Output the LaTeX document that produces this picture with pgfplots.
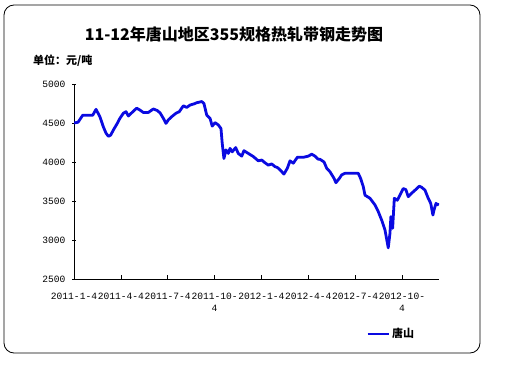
\documentclass[border=0pt]{standalone}
\usepackage{pgfplots}
\pgfplotsset{compat=1.18}
\usepackage{fontspec}
\setmainfont{Liberation Sans}
\setmonofont{Liberation Mono}
\newfontfamily\cjk{Noto Sans CJK SC}
\definecolor{lineblue}{RGB}{10,10,225}
\begin{document}
\begin{tikzpicture}
\path (0,0) rectangle (512pt,384pt);
\draw[black, line width=0.8pt, rounded corners=10pt] (4pt,31pt) rectangle (480pt,379pt);
\node[font=\cjk\bfseries\fontsize{16}{18}\selectfont] at (234pt,350pt) {11-12年唐山地区355规格热轧带钢走势图};
\node[font=\cjk\bfseries\fontsize{11}{12}\selectfont, anchor=west, inner sep=0pt] at (33pt,323pt) {单位：元/吨};
\begin{axis}[
  at={(74pt,105pt)}, anchor=south west,
  scale only axis, width=365pt, height=195pt,
  xmin=0, xmax=23.37, ymin=2500, ymax=5000,
  axis x line*=bottom, axis y line*=left,
  axis line style={-, line width=0.8pt},
  xtick={0,3,6,9,12,15,18,21},
  xticklabels={2011-1-4,2011-4-4,2011-7-4,2011-10-\\4,2012-1-4,2012-4-4,2012-7-4,2012-10-\\4},
  xticklabel style={align=center, font=\ttfamily\fontsize{9.6}{12}\selectfont, yshift=-10.5pt},
  ytick={2500,3000,3500,4000,4500,5000},
  yticklabel style={font=\ttfamily\fontsize{9.6}{12}\selectfont, xshift=-3pt},
  /pgf/number format/assume math mode=true,
  /pgf/number format/1000 sep={},
  scaled y ticks=false,
  tick style={black, line width=0.6pt},
  xtick align=inside, ytick align=center,
  major tick length=4pt,
  legend style={at={(0.800,-0.282)}, anchor=west, draw=none, fill=none,
    font=\cjk\bfseries\fontsize{11}{12}\selectfont, inner sep=0pt,
    legend cell align=left},
  legend image code/.code={\draw[#1] (0pt,0pt) -- (21pt,0pt);},
]
\addplot[lineblue, line width=2.8pt, line join=round] coordinates {
(0,4500) (0.26,4510) (0.56,4600) (1.20,4600) (1.41,4675) (1.66,4580) (1.88,4450)
(2.05,4370) (2.20,4330) (2.35,4345) (2.52,4410) (2.77,4495) (2.94,4560) (3.16,4625)
(3.33,4645) (3.48,4590) (3.69,4630) (4.01,4690) (4.23,4665) (4.44,4635) (4.76,4635)
(5.08,4680) (5.33,4660) (5.51,4630) (5.72,4560) (5.89,4495) (6.04,4540) (6.25,4580)
(6.53,4625) (6.74,4645) (7.00,4720) (7.22,4700) (7.43,4730) (7.68,4745) (7.86,4760)
(8.18,4775) (8.32,4750) (8.50,4600) (8.71,4560) (8.85,4460) (9.03,4505) (9.24,4475)
(9.41,4430) (9.49,4240) (9.60,4045) (9.73,4155) (9.88,4110) (9.99,4175) (10.13,4130)
(10.35,4185) (10.52,4110) (10.74,4075) (10.88,4145) (11.16,4110) (11.48,4070)
(11.80,4015) (12.02,4025) (12.23,3990) (12.44,3960) (12.66,3975) (12.87,3940)
(13.02,3930) (13.19,3900) (13.44,3845) (13.66,3920) (13.83,4015) (14.04,3985)
(14.30,4060) (14.68,4060) (15.00,4075) (15.22,4100) (15.43,4075) (15.64,4035)
(15.75,4035) (16.01,4000) (16.18,3920) (16.39,3875) (16.65,3790) (16.77,3735)
(16.99,3790) (17.14,3835) (17.35,3855) (18.20,3855) (18.35,3790) (18.52,3685)
(18.63,3575) (18.95,3535) (19.27,3450) (19.48,3365) (19.70,3255) (19.91,3130)
(20.12,2900) (20.23,3085) (20.29,3300) (20.40,3150) (20.51,3535) (20.70,3510)
(20.87,3575) (21.08,3660) (21.25,3645) (21.40,3555) (21.62,3600) (21.90,3650)
(22.11,3690) (22.26,3675) (22.47,3640) (22.68,3535) (22.84,3470) (22.98,3320)
(23.05,3385) (23.18,3470) (23.28,3450) (23.30,3475)
};
\addlegendentry{唐山}
\end{axis}
\end{tikzpicture}
\end{document}
